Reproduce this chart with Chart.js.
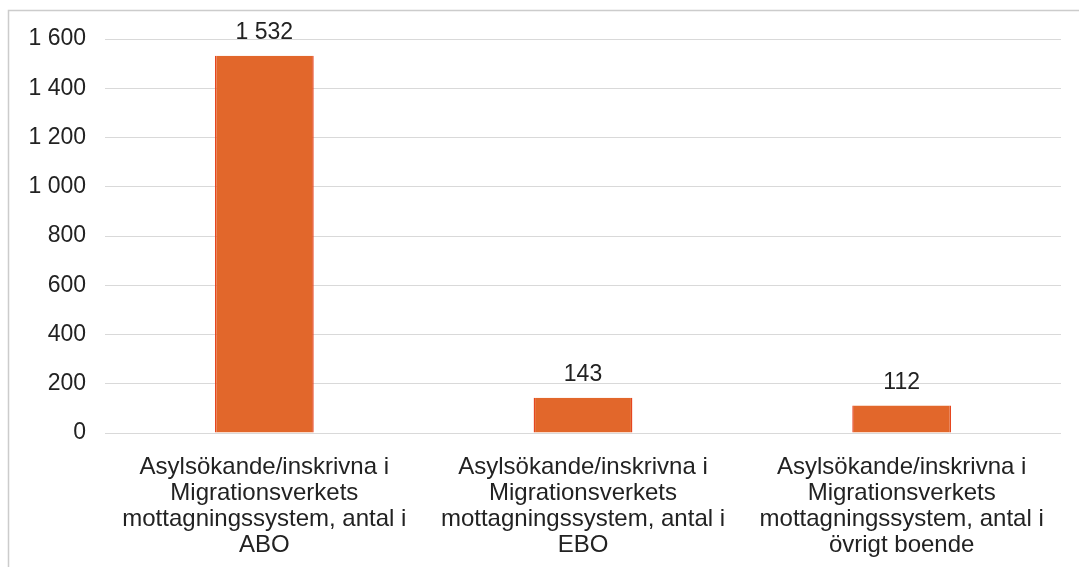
<!DOCTYPE html>
<html>
<head>
<meta charset="utf-8">
<script src="https://cdn.jsdelivr.net/npm/chart.js@4.4.1/dist/chart.umd.min.js"></script>
<style>
html,body{margin:0;padding:0;background:#fff;}
#wrap{position:relative;width:1079px;height:567px;}
</style>
</head>
<body>
<div id="wrap"><canvas id="c" width="1079" height="567"></canvas></div>
<script>
const categories = [
  ["Asylsökande/inskrivna i", "Migrationsverkets", "mottagningssystem, antal i", "ABO"],
  ["Asylsökande/inskrivna i", "Migrationsverkets", "mottagningssystem, antal i", "EBO"],
  ["Asylsökande/inskrivna i", "Migrationsverkets", "mottagningssystem, antal i", "övrigt boende"]
];
const values = [1532, 143, 112];
const yTicks = [0, 200, 400, 600, 800, 1000, 1200, 1400, 1600];

function fmt(v){ return String(v).replace(/\B(?=(\d{3})+(?!\d))/g, " "); }

const frame = {
  id: 'frame',
  beforeDraw(chart){
    const ctx = chart.ctx;
    ctx.save();
    ctx.strokeStyle = '#cccccc';
    ctx.lineWidth = 1.5;
    ctx.beginPath();
    ctx.moveTo(8.5, 567); ctx.lineTo(8.5, 10.5); ctx.lineTo(1079, 10.5);
    ctx.stroke();
    ctx.restore();
  }
};
const labels = {
  id: 'labels',
  afterDatasetsDraw(chart){
    const ctx = chart.ctx;
    const meta = chart.getDatasetMeta(0);
    ctx.save();
    ctx.font = '23px "Liberation Sans", Arial, sans-serif';
    ctx.fillStyle = '#222222';
    ctx.textAlign = 'center';
    ctx.textBaseline = 'middle';
    meta.data.forEach((bar, i) => {
      ctx.fillText(fmt(chart.data.datasets[0].data[i]), bar.x, bar.y - 23);
    });
    ctx.restore();
  }
};

new Chart(document.getElementById('c'), {
  type: 'bar',
  data: {
    labels: categories,
    datasets: [{
      data: values,
      backgroundColor: '#E2672B',
      borderColor: '#E6461F',
      borderWidth: {left:1.5, right:1.5, top:0, bottom:0},
      categoryPercentage: 1,
      barPercentage: 0.31
    }]
  },
  options: {
    responsive: false,
    animation: false,
    devicePixelRatio: 1,
    layout: { padding: { left: 8, right: 18, top: 39, bottom: 0 } },
    plugins: { legend: { display: false }, tooltip: { enabled: false } },
    scales: {
      x: {
        grid: { display: false },
        border: { display: false },
        ticks: {
          color: '#222222',
          font: { family: '"Liberation Sans", Arial, sans-serif', size: 24, lineHeight: '26px' },
          padding: 13,
          maxRotation: 0,
          autoSkip: false
        },
        afterFit(s){ s.height = 134; }
      },
      y: {
        min: 0, max: 1600,
        afterBuildTicks(s){ s.ticks = yTicks.map(v => ({value: v})); },
        grid: { color: '#d9d9d9', lineWidth: 1, drawTicks: false },
        border: { display: false },
        ticks: {
          color: '#222222',
          font: { family: '"Liberation Sans", Arial, sans-serif', size: 23 },
          padding: 19,
          callback: v => fmt(v)
        },
        afterFit(s){ s.width = 97; }
      }
    }
  },
  plugins: [frame, labels]
});
</script>
</body>
</html>
